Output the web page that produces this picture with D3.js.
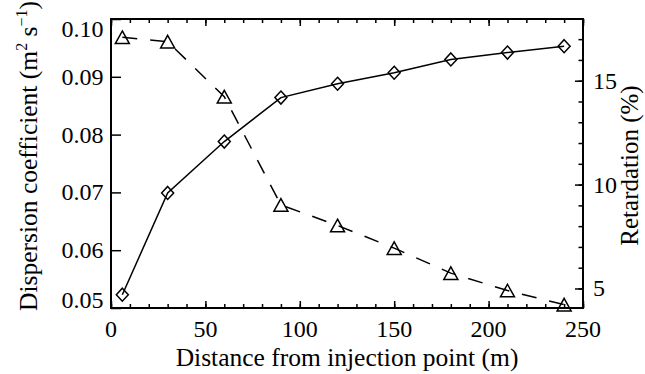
<!DOCTYPE html>
<html>
<head>
<meta charset="utf-8">
<script src="https://cdn.jsdelivr.net/npm/d3@7"></script>
</head>
<body style="margin:0">
<svg id="chart" width="645" height="374"></svg>
<script>
// ---- Data ----
const distance = [6, 30, 60, 90, 120, 150, 180, 210, 240];
const dispersion = [0.0523, 0.0699, 0.0788, 0.0864, 0.0888, 0.0907, 0.0930, 0.0942, 0.0953];
const retardation = [17.09, 16.88, 14.23, 9.02, 8.03, 6.94, 5.74, 4.90, 4.22];
const xMajorTicks = [0, 50, 100, 150, 200, 250];
const xMinorTicks = d3.range(0, 251, 10);
const leftTicks = [0.05, 0.06, 0.07, 0.08, 0.09, 0.10];
const rightMajorTicks = [5, 10, 15];
const rightMinorTicks = d3.range(5, 18, 1);

// ---- Layout ----
const W = 645, H = 374;
const m = { left: 111, right: 62, top: 19, bottom: 66 };
const pw = W - m.left - m.right, ph = H - m.top - m.bottom;
const tickFont = 24, titleFont = 25.5;
const FF = "Liberation Serif";

const svg = d3.select("#chart");
const g = svg.append("g").attr("transform", `translate(${m.left},${m.top})`);

const x = d3.scaleLinear().domain([0, 250]).range([0, pw]);
const yL = d3.scaleLinear().domain([0.05, 0.10]).range([ph, 0]);
const yR = d3.scaleLinear().domain([4.06, 17.97]).range([ph, 0]);

// tick marks (no labels) via d3 axes
function ticksOnly(sel) {
  sel.select(".domain").remove();
  sel.selectAll("text").remove();
  sel.selectAll("line").attr("stroke", "#000").attr("stroke-width", 1.5);
}
g.append("g").attr("transform", `translate(0,${ph})`)
  .call(d3.axisBottom(x).tickValues(xMinorTicks).tickSize(-4)).call(ticksOnly);
g.append("g").attr("transform", `translate(0,${ph})`)
  .call(d3.axisBottom(x).tickValues(xMajorTicks).tickSize(-7)).call(ticksOnly);
g.append("g").call(d3.axisTop(x).tickValues(xMinorTicks).tickSize(-4)).call(ticksOnly);
g.append("g").call(d3.axisTop(x).tickValues(xMajorTicks).tickSize(-7)).call(ticksOnly);
g.append("g").call(d3.axisLeft(yL).tickValues(leftTicks).tickSize(-10)).call(ticksOnly);
g.append("g").attr("transform", `translate(${pw},0)`)
  .call(d3.axisRight(yR).tickValues(rightMinorTicks).tickSize(-4.5)).call(ticksOnly);
g.append("g").attr("transform", `translate(${pw},0)`)
  .call(d3.axisRight(yR).tickValues(rightMajorTicks).tickSize(-8)).call(ticksOnly);

// tick labels as plain text elements
const fmtL = d3.format(".2f"), fmtX = d3.format("d");
g.selectAll(".xl").data(xMajorTicks).enter().append("text")
  .attr("font-family", FF).attr("font-size", tickFont)
  .attr("x", d => x(d)).attr("y", ph + 28.5).attr("text-anchor", "middle")
  .text(d => fmtX(d));
g.selectAll(".yl").data(leftTicks).enter().append("text")
  .attr("font-family", FF).attr("font-size", tickFont)
  .attr("x", -7.5).attr("text-anchor", "end")
  .attr("y", d => Math.min(ph, Math.max(18, yL(d) + 8)))
  .text(d => fmtL(d));
g.selectAll(".yr").data(rightMajorTicks).enter().append("text")
  .attr("font-family", FF).attr("font-size", tickFont)
  .attr("x", pw + 10).attr("text-anchor", "start")
  .attr("y", d => yR(d) + 8)
  .text(d => fmtX(d));

// frame
g.append("rect").attr("x", 0).attr("y", 0).attr("width", pw).attr("height", ph)
  .attr("fill", "none").attr("stroke", "#000").attr("stroke-width", 2);

// ---- Series ----
const dispPts = distance.map((d, i) => [x(d), yL(dispersion[i])]);
const retPts = distance.map((d, i) => [x(d), yR(retardation[i])]);

g.append("path").attr("d", d3.line()(dispPts))
  .attr("fill", "none").attr("stroke", "#000").attr("stroke-width", 1.5);
g.append("path").attr("d", d3.line()(retPts))
  .attr("fill", "none").attr("stroke", "#000").attr("stroke-width", 1.5)
  .attr("stroke-dasharray", "15,13");

g.selectAll(".dia").data(dispPts).enter().append("path")
  .attr("d", p => `M${p[0]},${p[1]-6.5}L${p[0]+6},${p[1]}L${p[0]},${p[1]+6.5}L${p[0]-6},${p[1]}Z`)
  .attr("fill", "none").attr("stroke", "#000").attr("stroke-width", 1.5);
g.selectAll(".tri").data(retPts).enter().append("path")
  .attr("d", p => `M${p[0]},${p[1]-6.3}L${p[0]+7},${p[1]+6.3}L${p[0]-7},${p[1]+6.3}Z`)
  .attr("fill", "none").attr("stroke", "#000").attr("stroke-width", 1.5);

// ---- Titles ----
svg.append("text").attr("font-family", FF).attr("font-size", titleFont)
  .attr("x", m.left + pw / 2).attr("y", 366).attr("text-anchor", "middle")
  .text("Distance from injection point (m)");

const lt = svg.append("text").attr("font-family", FF).attr("font-size", titleFont)
  .attr("transform", `translate(37,156) rotate(-90)`)
  .attr("text-anchor", "middle");
lt.append("tspan").text("Dispersion coefficient (m");
lt.append("tspan").attr("dy", -10).attr("font-size", 16).text("2");
lt.append("tspan").attr("dy", 10).text(" s");
lt.append("tspan").attr("dy", -10).attr("font-size", 16).text("\u22121");
lt.append("tspan").attr("dy", 10).text(")");

svg.append("text").attr("font-family", FF).attr("font-size", 25)
  .attr("transform", `translate(638,${m.top + ph / 2 + 2}) rotate(-90)`)
  .attr("text-anchor", "middle")
  .text("Retardation (%)");
</script>
</body>
</html>
